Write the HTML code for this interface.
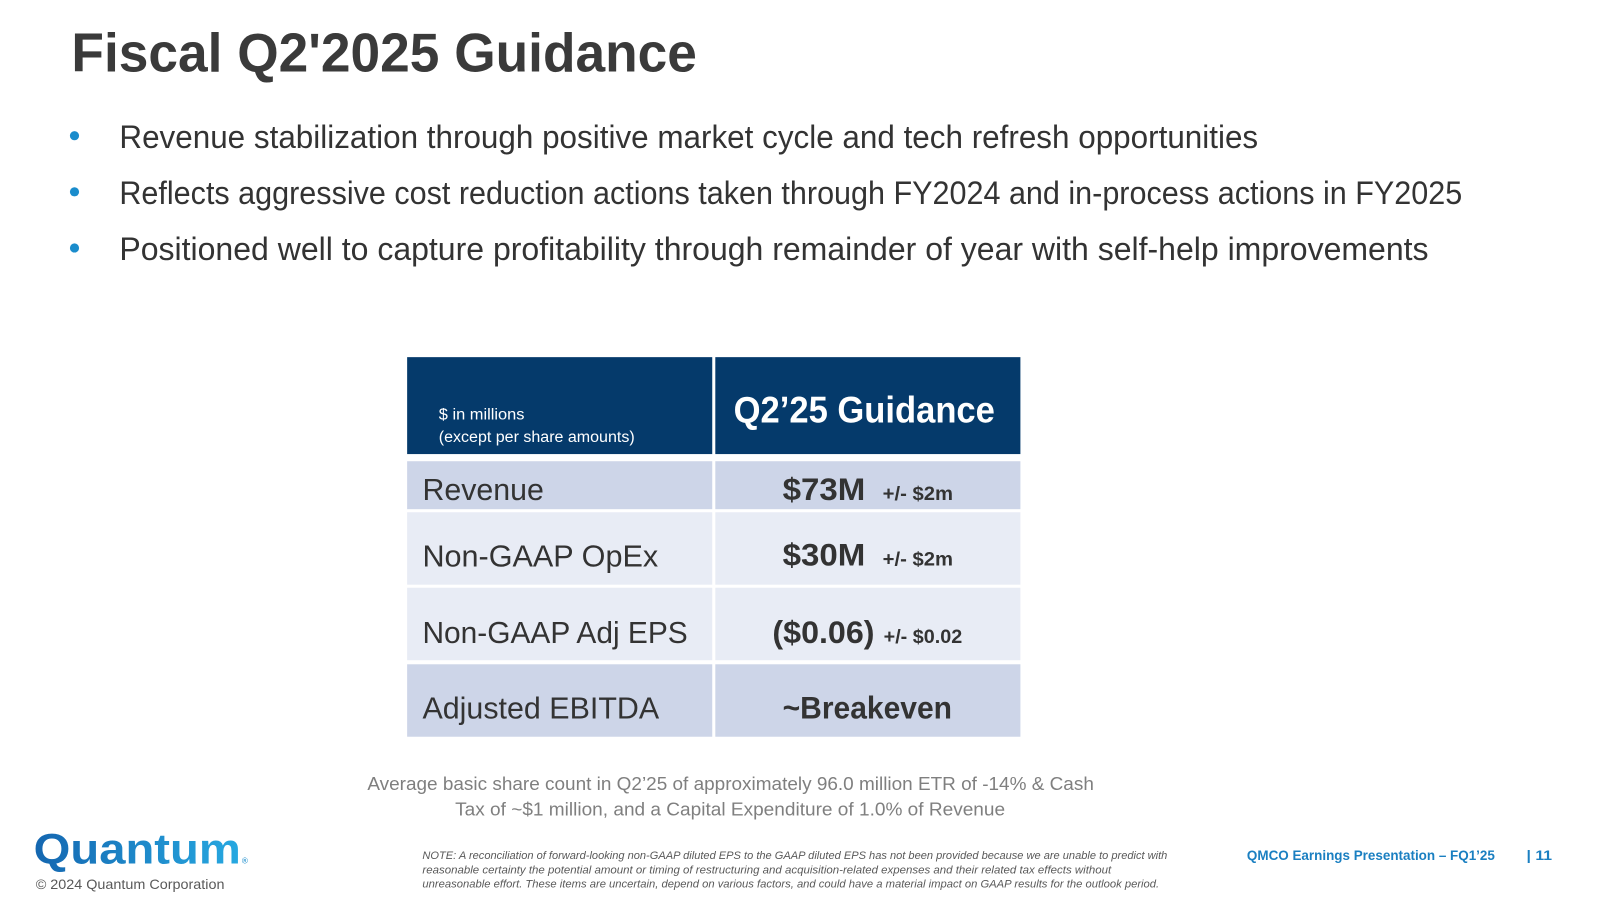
<!DOCTYPE html>
<html><head><meta charset="utf-8"><style>
html,body{margin:0;padding:0;background:#fff;}
svg{display:block;font-family:"Liberation Sans",sans-serif;}
</style></head><body>
<svg width="1600" height="900" viewBox="0 0 1600 900">
<defs><linearGradient id="qg" x1="0" x2="1"><stop offset="0" stop-color="#1466b0"/><stop offset="1" stop-color="#27a9e1"/></linearGradient></defs>
<g transform="scale(1.0204)">
<text x="70" y="70" font-size="54" font-weight="bold" fill="#3a3a3a" textLength="613" lengthAdjust="spacingAndGlyphs">Fiscal Q2'2025 Guidance</text>
<g font-size="32" fill="#333">
<circle cx="73" cy="133" r="4.5" fill="#1a8ccc"/>
<text x="117" y="145" textLength="1116" lengthAdjust="spacingAndGlyphs">Revenue stabilization through positive market cycle and tech refresh opportunities</text>
<circle cx="73" cy="188" r="4.5" fill="#1a8ccc"/>
<text x="117" y="200" textLength="1316" lengthAdjust="spacingAndGlyphs">Reflects aggressive cost reduction actions taken through FY2024 and in-process actions in FY2025</text>
<circle cx="73" cy="243" r="4.5" fill="#1a8ccc"/>
<text x="117" y="255" textLength="1283" lengthAdjust="spacingAndGlyphs">Positioned well to capture profitability through remainder of year with self-help improvements</text>
</g>
<g>
<rect x="399" y="350" width="299" height="95" fill="#053a6b"/>
<rect x="701" y="350" width="299" height="95" fill="#053a6b"/>
<text x="430" y="411" font-size="15" fill="#fff" textLength="84" lengthAdjust="spacingAndGlyphs">$ in millions</text>
<text x="430" y="433" font-size="15" fill="#fff" textLength="192" lengthAdjust="spacingAndGlyphs">(except per share amounts)</text>
<text x="719" y="414" font-size="36" font-weight="bold" fill="#fff" textLength="256" lengthAdjust="spacingAndGlyphs">Q2’25 Guidance</text>
<rect x="399" y="452" width="299" height="47" fill="#cdd5e8"/><rect x="701" y="452" width="299" height="47" fill="#cdd5e8"/>
<rect x="399" y="502" width="299" height="71" fill="#e8ecf5"/><rect x="701" y="502" width="299" height="71" fill="#e8ecf5"/>
<rect x="399" y="576" width="299" height="71" fill="#e8ecf5"/><rect x="701" y="576" width="299" height="71" fill="#e8ecf5"/>
<rect x="399" y="651" width="299" height="71" fill="#cdd5e8"/><rect x="701" y="651" width="299" height="71" fill="#cdd5e8"/>
<g font-size="30" fill="#333">
<text x="414" y="490" textLength="119" lengthAdjust="spacingAndGlyphs">Revenue</text>
<text x="414" y="555" textLength="231" lengthAdjust="spacingAndGlyphs">Non-GAAP OpEx</text>
<text x="414" y="630" textLength="260" lengthAdjust="spacingAndGlyphs">Non-GAAP Adj EPS</text>
<text x="414" y="704" textLength="232" lengthAdjust="spacingAndGlyphs">Adjusted EBITDA</text>
</g>
<g font-weight="bold" fill="#333">
<text x="767" y="490" font-size="31" textLength="81" lengthAdjust="spacingAndGlyphs">$73M</text>
<text x="865" y="490" font-size="19" textLength="69" lengthAdjust="spacingAndGlyphs">+/- $2m</text>
<text x="767" y="554" font-size="31" textLength="81" lengthAdjust="spacingAndGlyphs">$30M</text>
<text x="865" y="554" font-size="19" textLength="69" lengthAdjust="spacingAndGlyphs">+/- $2m</text>
<text x="757" y="630" font-size="31" textLength="100" lengthAdjust="spacingAndGlyphs">($0.06)</text>
<text x="866" y="630" font-size="19" textLength="77" lengthAdjust="spacingAndGlyphs">+/- $0.02</text>
<text x="767" y="704" font-size="31" textLength="166" lengthAdjust="spacingAndGlyphs">~Breakeven</text>
</g>
</g>
<g font-size="18" fill="#7f7f7f">
<text x="360" y="774" textLength="712" lengthAdjust="spacingAndGlyphs">Average basic share count in Q2’25 of approximately 96.0 million ETR of -14% &amp; Cash</text>
<text x="446" y="799" textLength="539" lengthAdjust="spacingAndGlyphs">Tax of ~$1 million, and a Capital Expenditure of 1.0% of Revenue</text>
</g>
<text x="33" y="846" font-size="42" font-weight="bold" fill="url(#qg)" textLength="203" lengthAdjust="spacingAndGlyphs">Quantum</text>
<text x="237" y="846" font-size="8" fill="#1a8ccc">®</text>
<text x="35" y="871" font-size="14" fill="#595959" textLength="185" lengthAdjust="spacingAndGlyphs">© 2024 Quantum Corporation</text>
<g font-size="10.5" font-style="italic" fill="#595959">
<text x="414" y="842" textLength="730" lengthAdjust="spacingAndGlyphs">NOTE: A reconciliation of forward-looking non-GAAP diluted EPS to the GAAP diluted EPS has not been provided because we are unable to predict with</text>
<text x="414" y="856" textLength="675" lengthAdjust="spacingAndGlyphs">reasonable certainty the potential amount or timing of restructuring and acquisition-related expenses and their related tax effects without</text>
<text x="414" y="870" textLength="722" lengthAdjust="spacingAndGlyphs">unreasonable effort. These items are uncertain, depend on various factors, and could have a material impact on GAAP results for the outlook period.</text>
</g>
<text x="1222" y="843" font-size="14" font-weight="bold" fill="#1a7fc1" textLength="243" lengthAdjust="spacingAndGlyphs">QMCO Earnings Presentation – FQ1’25</text>
<text x="1496" y="843" font-size="14" font-weight="bold" fill="#1a7fc1" textLength="25" lengthAdjust="spacingAndGlyphs">| 11</text>
</g>
</svg>
</body></html>
